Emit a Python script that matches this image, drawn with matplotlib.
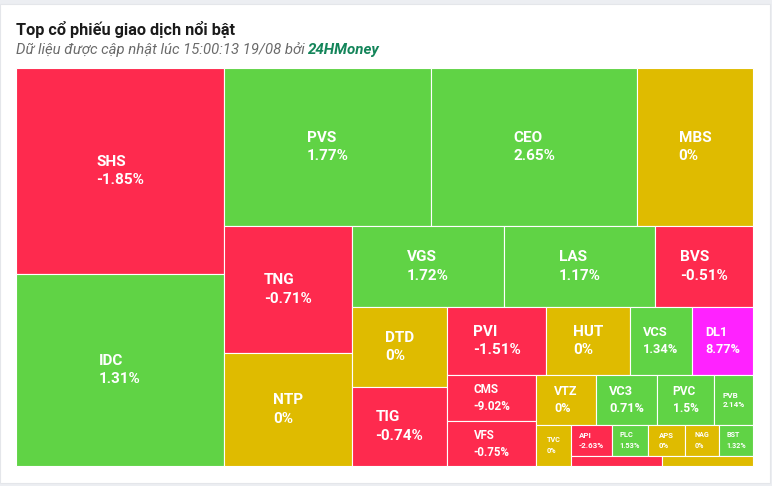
import matplotlib
matplotlib.use('Agg')
import matplotlib.pyplot as plt
from matplotlib.patches import Rectangle

# ticker, % change and traded volume (relative)
tickers = ["SHS", "IDC", "PVS", "CEO", "MBS", "TNG", "NTP", "VGS", "LAS", "BVS",
           "DTD", "TIG", "PVI", "HUT", "VCS", "DL1", "CMS", "VFS", "VTZ", "VC3",
           "PVC", "PVB", "TVC", "API", "PLC", "APS", "NAG", "BST", "", ""]
changes = [-1.85, 1.31, 1.77, 2.65, 0, -0.71, 0, 1.72, 1.17, -0.51,
           0, -0.74, -1.51, 0, 1.34, 8.77, -9.02, -0.75, 0, 0.71,
           1.5, 2.14, 0, -2.63, 1.53, 0, 0, 1.32, -0.5, 0]  # last two: labels not visible
volume = [42848, 39936, 32706, 32548, 18328, 16256, 14464, 12312, 12231, 7938,
          7600, 7505, 6732, 5712, 4216, 4148, 4094, 4005, 3000, 3050,
          2850, 1950, 1435, 1271, 1116, 1147, 1054, 1054, 910, 910]
ceiling = {"DL1"}

RED = '#fe2a4e'
GREEN = '#60d345'
YELLOW = '#dfbb00'
MAGENTA = '#ff22ff'


def cell_color(name, chg):
    if name in ceiling:
        return MAGENTA
    if chg > 0:
        return GREEN
    if chg < 0:
        return RED
    return YELLOW


def fmt(chg):
    return '{:g}%'.format(chg)


def aspect(a, b):
    if a == 0 or b == 0:
        return float('inf')
    return max(a / b, b / a)


def squarified(x0, y0, width, height, values):
    # alternating-direction squarified layout (vertical first)
    areas = [width * height * v / sum(values) for v in values]
    out = []
    g = {'w': width, 'h': height, 'd': 0, 'els': [], 'total': 0.0,
         'nW': 0.0, 'lW': 0.0, 'nH': 0.0, 'lH': 0.0, 'lR': 0.0, 'nR': 0.0}
    plot = [x0, y0]

    def add(el):
        last = g['els'][-1] if g['els'] else None
        g['total'] += el
        if g['d'] == 0:
            g['lW'] = g['nW']
            g['nW'] = g['total'] / g['h']
            if last is None:
                g['lR'], g['nR'] = 0.0, 0.0
            else:
                g['lR'] = aspect(g['lW'], last / g['lW'] if g['lW'] else float('inf'))
                g['nR'] = aspect(g['nW'], last / g['nW'])
        else:
            g['lH'] = g['nH']
            g['nH'] = g['total'] / g['w']
            if last is None:
                g['lR'], g['nR'] = 0.0, 0.0
            else:
                g['lR'] = aspect(last / g['lH'] if g['lH'] else float('inf'), g['lH'])
                g['nR'] = aspect(last / g['nH'], g['nH'])
        g['els'].append(el)

    def calc(last):
        gw, gh = (g['nW'], g['nH']) if last else (g['lW'], g['lH'])
        els = g['els'] if last else g['els'][:-1]
        keep = None if last else g['els'][-1]
        for p in els:
            if g['d'] == 0:
                pw, ph = gw, p / gw
                out.append((plot[0], plot[1], pw, ph))
                plot[1] += ph
            else:
                ph, pw = gh, p / gh
                out.append((plot[0], plot[1], pw, ph))
                plot[0] += pw
        g['els'], g['total'], g['nW'], g['lW'], g['nH'], g['lH'] = [], 0.0, 0.0, 0.0, 0.0, 0.0
        if g['d'] == 0:
            g['w'] -= gw
        else:
            g['h'] -= gh
        plot[1] = y0 + (height - g['h'])
        plot[0] = x0 + (width - g['w'])
        g['d'] = 1 - g['d']
        if keep is not None:
            add(keep)

    for i, a in enumerate(areas):
        add(a)
        if g['nR'] > g['lR']:
            calc(False)
        if i == len(areas) - 1:
            calc(True)
    return out


W, H = 772, 486
fig = plt.figure(figsize=(W / 100, H / 100), dpi=100)
fig.patch.set_facecolor('#eceef2')
ax = fig.add_axes([0, 0, 1, 1])
ax.set_xlim(0, W)
ax.set_ylim(H, 0)
ax.axis('off')

plt.rcParams['font.family'] = ['Roboto', 'DejaVu Sans']

# white card
ax.add_patch(Rectangle((0, 4), 770, 479, facecolor='white', edgecolor='#e4e6ea', lw=0.8))

ax.text(16, 30, "Top cổ phiếu giao dịch nổi bật", fontsize=11.7, fontweight='bold',
        color='#1b1b1b', va='center', ha='left')
t1 = ax.text(16, 57, "Dữ liệu được cập nhật lúc 15:00:13 19/08 bởi ", fontsize=10.7,
             style='italic', color='#6b6b6b', va='bottom', ha='left')
ax.annotate("24HMoney", xy=(1, 0), xycoords=t1, fontsize=10.9, style='italic',
            fontweight='bold', color='#14855a', va='bottom', ha='left')

rects = squarified(16, 68, 737, 398, volume)
for (x, y, w, h), name, chg in zip(rects, tickers, changes):
    ax.add_patch(Rectangle((x, y), w, h, facecolor=cell_color(name, chg),
                           edgecolor='white', lw=0.8))
    fs_px = min(15.2, w / 4.8, h / 3.9)
    if fs_px < 5 or not name:
        continue
    ax.text(x + w / 2, y + h / 2, name + "\n" + fmt(chg), fontsize=fs_px * 0.72,
            fontweight='bold', color='white', ha='center', va='center',
            multialignment='left', linespacing=1.4)

fig.savefig('out.png', dpi=100, facecolor=fig.get_facecolor())
